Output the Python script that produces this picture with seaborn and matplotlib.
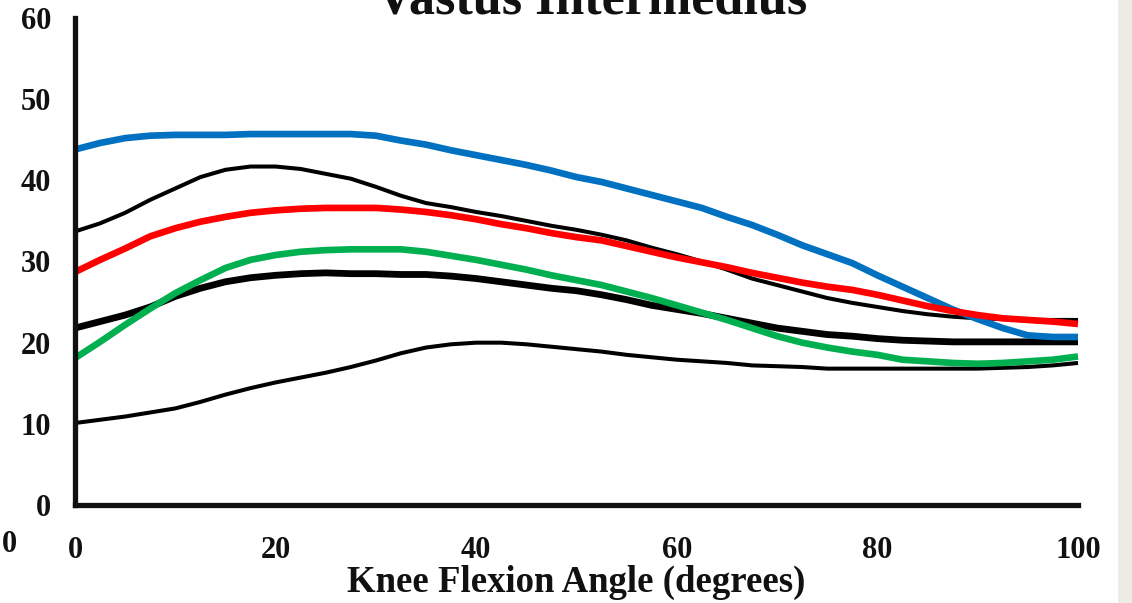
import numpy as np
import pandas as pd
import matplotlib
matplotlib.use("Agg")
import matplotlib.pyplot as plt
from matplotlib.patches import Rectangle
import seaborn as sns

# Knee flexion angle (degrees), sampled every 2.5 degrees
angle = [0, 2.5, 5, 7.5, 10, 12.5, 15, 17.5, 20, 22.5, 25, 27.5, 30, 32.5, 35, 37.5, 40,
         42.5, 45, 47.5, 50, 52.5, 55, 57.5, 60, 62.5, 65, 67.5, 70, 72.5, 75, 77.5, 80,
         82.5, 85, 87.5, 90, 92.5, 95, 97.5, 100]

# Model predictions
blue_curve = [43.8, 44.6, 45.2, 45.5, 45.6, 45.6, 45.6, 45.7, 45.7, 45.7, 45.7, 45.7, 45.5,
              44.9, 44.4, 43.7, 43.1, 42.5, 41.9, 41.2, 40.4, 39.8, 39.0, 38.2, 37.4, 36.6,
              35.5, 34.5, 33.3, 32.0, 30.9, 29.8, 28.3, 26.9, 25.5, 24.1, 22.9, 21.8, 20.9,
              20.7, 20.7]
red_curve = [28.7, 30.2, 31.6, 33.1, 34.1, 34.9, 35.5, 36.0, 36.3, 36.5, 36.6, 36.6, 36.6,
             36.4, 36.1, 35.7, 35.2, 34.6, 34.1, 33.5, 33.0, 32.6, 31.9, 31.2, 30.5, 29.9,
             29.3, 28.6, 28.0, 27.4, 26.9, 26.5, 25.9, 25.2, 24.5, 23.9, 23.4, 23.0, 22.8,
             22.6, 22.3]
green_curve = [18.1, 20.1, 22.2, 24.2, 26.1, 27.7, 29.2, 30.2, 30.8, 31.2, 31.4, 31.5, 31.5,
               31.5, 31.2, 30.7, 30.2, 29.6, 29.0, 28.3, 27.7, 27.1, 26.3, 25.5, 24.6, 23.7,
               22.8, 21.8, 20.8, 20.0, 19.4, 18.9, 18.5, 17.9, 17.7, 17.5, 17.4, 17.5, 17.7,
               17.9, 18.3]

# Experimental mean and +/- bounds
mean_curve = [21.8, 22.6, 23.4, 24.4, 25.7, 26.7, 27.5, 28.0, 28.3, 28.5, 28.6, 28.5, 28.5,
              28.4, 28.4, 28.2, 27.9, 27.5, 27.1, 26.7, 26.4, 25.9, 25.3, 24.6, 24.1, 23.6,
              23.0, 22.4, 21.8, 21.4, 21.0, 20.8, 20.5, 20.3, 20.2, 20.1, 20.1, 20.1, 20.1,
              20.1, 20.1]
upper_bound = [33.7, 34.7, 36.0, 37.6, 39.0, 40.4, 41.3, 41.7, 41.7, 41.4, 40.8, 40.2, 39.2,
               38.1, 37.2, 36.7, 36.1, 35.6, 35.0, 34.4, 33.9, 33.3, 32.6, 31.7, 30.9, 30.0,
               29.0, 27.9, 27.1, 26.3, 25.5, 24.9, 24.4, 23.9, 23.5, 23.2, 23.0, 22.9, 22.8,
               22.8, 22.8]
lower_bound = [10.1, 10.5, 10.9, 11.4, 11.9, 12.7, 13.6, 14.4, 15.1, 15.7, 16.3, 17.0, 17.8,
               18.7, 19.4, 19.8, 20.0, 20.0, 19.8, 19.5, 19.2, 18.9, 18.5, 18.2, 17.9, 17.7,
               17.5, 17.2, 17.1, 17.0, 16.8, 16.8, 16.8, 16.8, 16.8, 16.8, 16.8, 16.9, 17.0,
               17.2, 17.5]

x_ticks = [0, 20, 40, 60, 80, 100]
y_ticks = [0, 10, 20, 30, 40, 50, 60]

sns.set_style("white")
plt.rcParams["font.family"] = ["Liberation Serif", "DejaVu Serif"]
plt.rcParams["font.weight"] = "bold"

W, H = 1132, 603
fig = plt.figure(figsize=(W / 100, H / 100), dpi=100)
ax = fig.add_axes([75 / W, 1 - 505 / H, (1078 - 75) / W, (505 - 18) / H])

series = [
    (upper_bound, "black", 2.9),
    (lower_bound, "black", 2.9),
    (mean_curve, "black", 4.9),
    (blue_curve, "#0070C0", 4.8),
    (green_curve, "#00B050", 4.8),
    (red_curve, "#FF0000", 4.8),
]
for vals, col, lw in series:
    sns.lineplot(x=angle, y=vals, ax=ax, color=col, linewidth=lw,
                 solid_capstyle="butt", solid_joinstyle="round", clip_on=False)

ax.set_xlim(0, 100)
ax.set_ylim(0, 60)
ax.set_xticks(x_ticks)
ax.set_yticks(y_ticks)
ax.set_xticklabels([str(t) for t in x_ticks], fontsize=22, fontweight="bold")
ax.set_yticklabels([str(t) for t in y_ticks], fontsize=22, fontweight="bold")
ax.tick_params(axis="x", length=0, pad=22, colors="#111111")
ax.tick_params(axis="y", length=0, pad=17, colors="#111111")
ax.set_xlabel("Knee Flexion Angle (degrees)", fontsize=26.5, fontweight="bold",
              color="#111111", labelpad=0)
ax.set_ylabel("")

for side in ["top", "right"]:
    ax.spines[side].set_visible(False)
for side in ["left", "bottom"]:
    ax.spines[side].set_linewidth(3.8)
    ax.spines[side].set_color("#111111")
    ax.spines[side].set_capstyle("projecting")

fig.text(592 / W, 1 - 14 / H, "Vastus Intermedius", ha="center", va="baseline",
         fontsize=37.5, fontweight="bold", color="#111111")
fig.text(9 / W, 1 - 545 / H, "0", ha="center", va="center",
         fontsize=22, fontweight="bold", color="#111111")

fig.patches.append(Rectangle((1118 / W, 0), (W - 1118) / W, 1, transform=fig.transFigure,
                             facecolor="#EDEBE4", edgecolor="none", zorder=-1))

fig.savefig("out.png", dpi=100)
